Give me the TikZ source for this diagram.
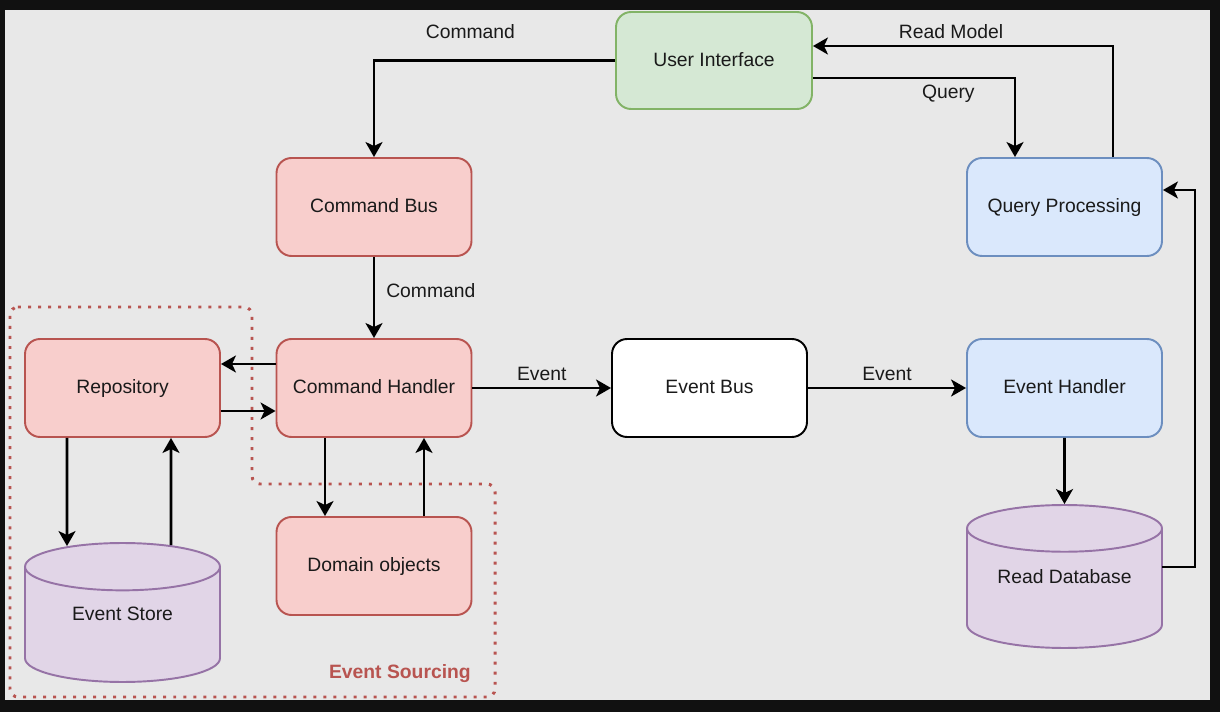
\documentclass[tikz,border=0pt]{standalone}
\usepackage{fontspec}
\setmainfont{Liberation Sans}
\usetikzlibrary{arrows.meta,shapes.geometric,calc}

\definecolor{redfill}{HTML}{F8CECC}
\definecolor{redline}{HTML}{B85450}
\definecolor{bluefill}{HTML}{DAE8FC}
\definecolor{blueline}{HTML}{6C8EBF}
\definecolor{greenfill}{HTML}{D5E8D4}
\definecolor{greenline}{HTML}{82B366}
\definecolor{purplefill}{HTML}{E1D5E7}
\definecolor{purpleline}{HTML}{9673A6}
\definecolor{canvas}{HTML}{E8E8E8}
\definecolor{frame}{HTML}{111111}
\definecolor{ink}{HTML}{1A1A1A}

\begin{document}
\begin{tikzpicture}[x=0.02cm, y=-0.02cm, font=\fontsize{11}{13}\selectfont, text=ink,
                    box/.style={rectangle, rounded corners=0.3cm, draw, line width=1.1pt,
                                minimum width=3.9cm, minimum height=1.96cm,
                                text height=1.6ex, text depth=0.4ex},
                    redbox/.style={box, draw=redline, fill=redfill},
                    bluebox/.style={box, draw=blueline, fill=bluefill},
                    store/.style={cylinder, shape border rotate=90, aspect=0.42, draw=purpleline,
                                  fill=purplefill, line width=1.1pt, minimum width=3.9cm,
                                  anchor=shape center, text height=1.6ex, inner ysep=0pt},
                    flow/.style={line width=1.6pt, -{Stealth[length=0.3cm, width=0.34cm, inset=0.08cm]}},
                    hv/.style={to path={-| (\tikztotarget) \tikztonodes}},
                    vh/.style={to path={|- (\tikztotarget) \tikztonodes}}]

  % screen frame
  \fill[frame] (0,0) rectangle (1220,712);
  \fill[canvas] (5,10) rectangle (1210,700);

  % event sourcing area
  \draw[redline, line width=1.7pt, dash pattern=on 1.7pt off 4pt, rounded corners=0.16cm]
    (10,307) -- (252,307) -- (252,484) -- (495,484) -- (495,697) -- (10,697) -- cycle;
  \node[redline, font=\fontsize{11}{13}\selectfont\bfseries, anchor=east] (es) at (477,674) {Event Sourcing};

  \node[box, draw=greenline, fill=greenfill, minimum width=3.92cm, minimum height=1.94cm] (ui) at (714,60.5) {User Interface};
  \node[redbox] (cbus) at (374,207) {Command Bus};
  \node[bluebox] (qp) at (1064.5,207) {Query Processing};
  \node[redbox] (repo) at (122.5,388) {Repository};
  \node[redbox] (chandler) at (374,388) {Command Handler};
  \node[box, fill=white] (ebus) at (709.5,388) {Event Bus};
  \node[bluebox] (ehandler) at (1064.5,388) {Event Handler};
  \node[redbox] (domain) at (374,566) {Domain objects};
  \node[store, minimum height=2.78cm, text depth=0.64cm] (estore) at (122.5,612.5) {Event Store};
  \node[store, aspect=0.32, minimum height=2.86cm, text depth=0.68cm] (rdb) at (1064.5,576.5) {Read Database};

  \path[flow]
  (ui.west) edge[hv] node[pos=0.3, above=0.3cm] {Command} (cbus.north)
  ($(qp.north)+(48.5,0)$) edge[vh] node[pos=0.77, above] {Read Model} ($(ui.east)+(0,-14.5)$)
  ($(ui.east)+(0,17.5)$) edge[hv] node[pos=0.335, below] {Query} ($(qp.north)+(-49.5,0)$)
  (cbus.south) edge node[pos=0.42, right=0.1cm] {Command} (chandler.north)
  ($(chandler.west)+(0,-24)$) edge ($(repo.east)+(0,-24)$)
  ($(repo.east)+(0,23)$) edge ($(chandler.west)+(0,23)$)
  (chandler.east) edge node[above] {Event} (ebus.west)
  (ebus.east) edge node[above] {Event} (ehandler.west)
  (ehandler.south) edge (rdb.north)
  ($(repo.south)+(-55.5,0)$) edge ($(estore.north)+(-55.5,4)$)
  ($(estore.north)+(48.5,3)$) edge ($(repo.south)+(48.5,0)$)
  ($(chandler.south)+(-49,0)$) edge ($(domain.north)+(-49,0)$)
  ($(domain.north)+(50,0)$) edge ($(chandler.south)+(50,0)$);

  \draw[flow] ($(rdb.shape center)+(97.5,-9.5)$) -- ++(33,0) |- ($(qp.east)+(0,-17)$);

\end{tikzpicture}
\end{document}
